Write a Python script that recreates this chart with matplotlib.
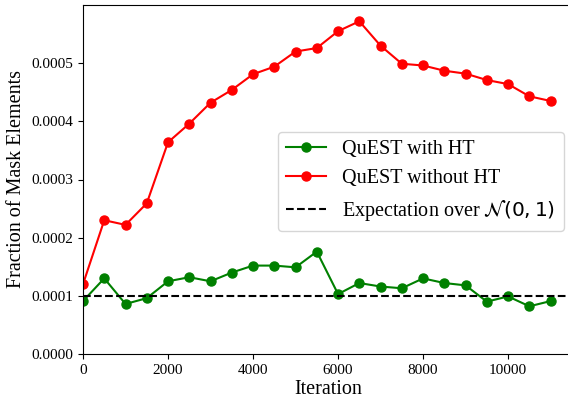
import matplotlib
matplotlib.use("Agg")
import matplotlib.pyplot as plt

# sparsity of the mask over training, with and without the Hadamard transform
iters = [0, 500, 1000, 1500, 2000, 2500, 3000, 3500, 4000, 4500, 5000, 5500,
         6000, 6500, 7000, 7500, 8000, 8500, 9000, 9500, 10000, 10500, 11000]
with_ht = [0.000091, 0.000130, 0.000086, 0.000096, 0.000125, 0.000132, 0.000125,
           0.000140, 0.000152, 0.000152, 0.000149, 0.000176, 0.000103, 0.000122,
           0.000116, 0.000113, 0.000130, 0.000122, 0.000118, 0.000090, 0.000099,
           0.000082, 0.000091]
without_ht = [0.000120, 0.000230, 0.000222, 0.000259, 0.000364, 0.000396, 0.000432,
              0.000454, 0.000481, 0.000494, 0.000520, 0.000526, 0.000555, 0.000572,
              0.000530, 0.000499, 0.000496, 0.000487, 0.000482, 0.000471, 0.000464,
              0.000443, 0.000435]
expectation = 0.0001

plt.rcParams["font.family"] = ["Liberation Serif", "DejaVu Serif"]
plt.rcParams["mathtext.fontset"] = "dejavusans"

fig = plt.figure(figsize=(5.68, 4.01), dpi=100)
ax = fig.add_axes([83 / 568, 47 / 401, 491 / 568, 349 / 401])

ax.plot(iters, with_ht, "o-", color="green", lw=1.5, ms=6.5, label="QuEST with HT")
ax.plot(iters, without_ht, "o-", color="red", lw=1.5, ms=6.5, label="QuEST without HT")
ax.axhline(expectation, color="black", ls="--", lw=1.5,
           label=r"Expectation over $\mathcal{N}(0, 1)$")

ax.set_xlim(0, 11550)
ax.set_ylim(0, 0.0006)
yt = [0, 0.0001, 0.0002, 0.0003, 0.0004, 0.0005]
ax.set_yticks(yt)
ax.set_yticklabels([f"{v:.4f}" for v in yt])
ax.set_xticks([0, 2000, 4000, 6000, 8000, 10000])
ax.tick_params(labelsize=11)
ax.set_xlabel("Iteration", fontsize=14.5, labelpad=2)
ax.set_ylabel("Fraction of Mask Elements", fontsize=14.5)

ax.legend(fontsize=14.5, loc="upper left", bbox_to_anchor=(278 / 568, 1 - 132 / 401),
          bbox_transform=fig.transFigure, borderaxespad=0)

fig.savefig("out.png", dpi=100)
